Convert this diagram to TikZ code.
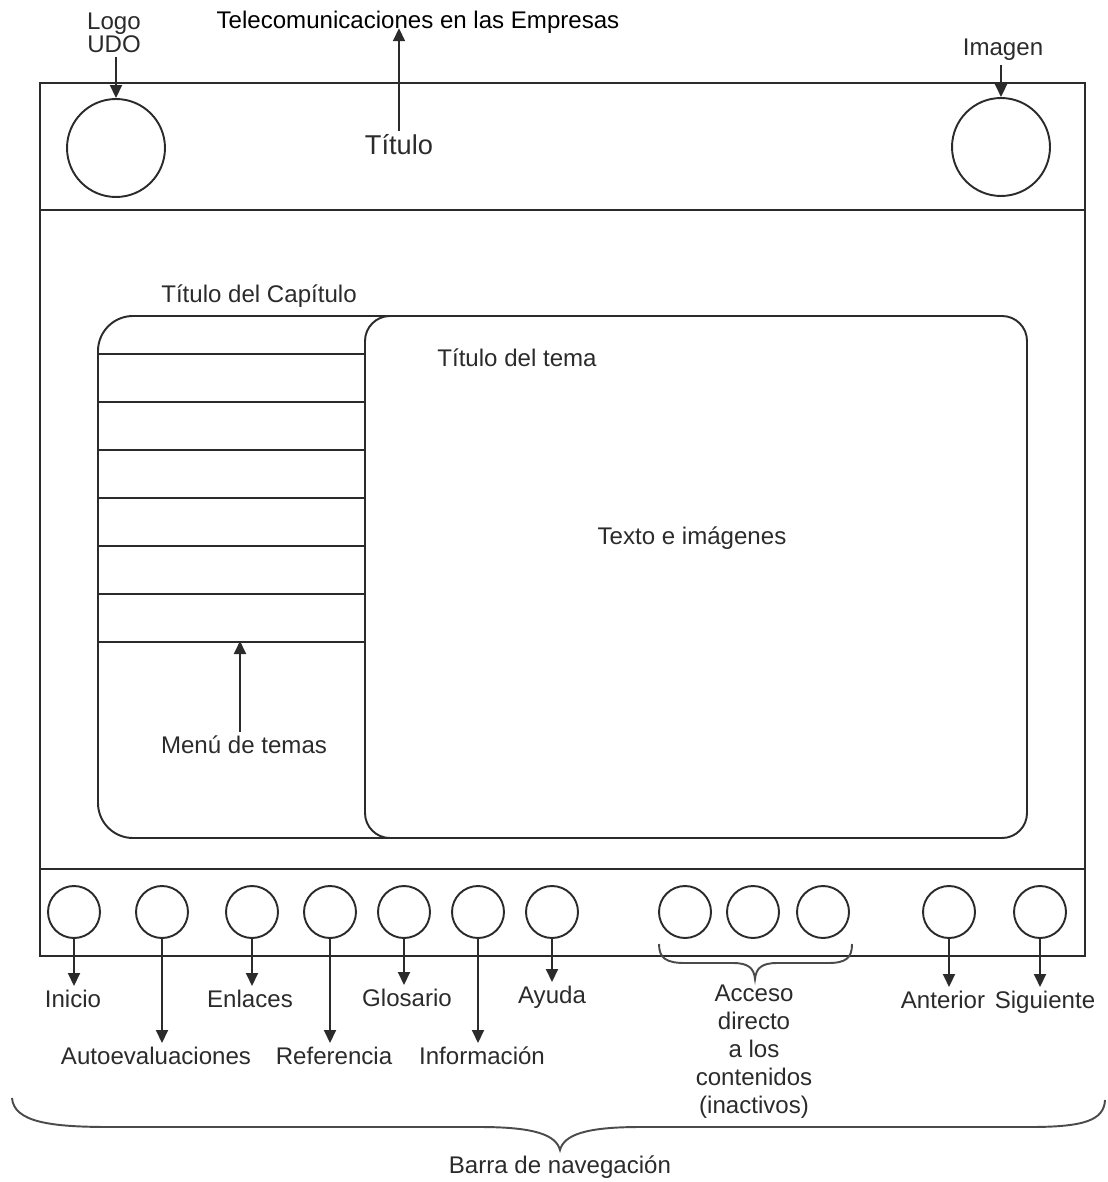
\documentclass[tikz,border=0pt]{standalone}
\usepackage{fontspec}
\setmainfont{Liberation Sans}
\usetikzlibrary{positioning, arrows.meta, calc}
\definecolor{tinta}{HTML}{2B2B2B}

\begin{document}
\begin{tikzpicture}[x=0.02cm, y=-0.02cm,
      linea/.style={draw=tinta, line width=1.1pt},
      circulo/.style={circle, draw=tinta, line width=1.1pt,
        minimum size=1.96cm, inner sep=0pt},
      boton/.style={circle, draw=tinta, line width=1.1pt,
        minimum size=1.04cm, inner sep=0pt},
      etiqueta/.style={text=tinta, font=\fontsize{13.7}{16}\selectfont, inner sep=2pt},
      llave/.style={draw=tinta!85, line width=1.1pt},
      flecha/.style={-{Triangle[length=0.26cm, width=0.24cm]}, draw=tinta, line width=1.1pt}]
    \useasboundingbox (0,0) rectangle (1107,1182);
    % marco de la pagina
    \draw[linea] (40,83) rectangle (1085,956);
    \draw[linea] (40,210) -- (1085,210);
    \draw[linea] (40,869) -- (1085,869);
    % cabecera
    \node[circulo] (logo) at (116,148) {};
    \node[circulo] (imagen) at (1001,147) {};
    \node[etiqueta, align=center] (logotxt) at (114,33) {Logo\\[-3pt]UDO};
    \node[etiqueta, text=black] (empresa) at (418,22) {Telecomunicaciones en las Empresas};
    \node[etiqueta, font=\fontsize{15.5}{18}\selectfont] (titulo) at (399,145) {Título};
    \node[etiqueta] (imagentxt) at (1003,50) {Imagen};
    \draw[flecha] (logotxt.south -| logo.north) -- (logo.north);
    \draw[flecha] (imagentxt.south -| imagen.north) -- (imagen.north);
    \draw[flecha] (titulo.north) -- (titulo.north |- empresa.base);
    % capitulo y tema
    \draw[linea, rounded corners=0.7cm] (98,316) rectangle (420,838);
    \foreach \i in {0,...,6}
      \draw[linea] (98,354+48*\i) -- (365,354+48*\i);
    \draw[linea, fill=white, rounded corners=0.5cm] (365,316) rectangle (1027,838);
    \coordinate (ultima) at (240,641);
    \node[etiqueta] (capitulo) at (259,296) {Título del Capítulo};
    \node[etiqueta] (tema) at (517,358) {Título del tema};
    \node[etiqueta] (texto) at (692,538) {Texto e imágenes};
    \node[etiqueta] (menu) at (244,745) {Menú de temas};
    \draw[flecha] (menu.north -| ultima) -- (ultima);
    % barra de navegacion
    \foreach \n/\x in {1/74,2/162,3/252,4/330,5/404,6/478,7/552,
        8/685,9/753,10/823,11/949,12/1040}
      \node[boton] (b\n) at (\x,912) {};
    \node[etiqueta, anchor=north] (inicio) at (73,986) {Inicio};
    \node[etiqueta, anchor=north] (autoeval) at (156,1043) {Autoevaluaciones};
    \node[etiqueta, anchor=north] (enlaces) at (250,986) {Enlaces};
    \node[etiqueta, anchor=north] (referencia) at (334,1043) {Referencia};
    \node[etiqueta, anchor=north] (glosario) at (407,985) {Glosario};
    \node[etiqueta, anchor=north] (informacion) at (482,1043) {Información};
    \node[etiqueta, anchor=north] (ayuda) at (552,982) {Ayuda};
    \node[etiqueta, anchor=north] (anterior) at (943,987) {Anterior};
    \node[etiqueta, anchor=north] (siguiente) at (1045,987) {Siguiente};
    \node[etiqueta, anchor=north, align=center, font=\fontsize{13.7}{15.9}\selectfont]
      (acceso) at (754,981) {Acceso\\directo\\a los\\contenidos\\(inactivos)};
    \draw[flecha] (b1) -- (b1 |- inicio.north);
    \draw[flecha] (b2) -- (b2 |- autoeval.north);
    \draw[flecha] (b3) -- (b3 |- enlaces.north);
    \draw[flecha] (b4) -- (b4 |- referencia.north);
    \draw[flecha] (b5) -- (b5 |- glosario.north);
    \draw[flecha] (b6) -- (b6 |- informacion.north);
    \draw[flecha] (b7) -- (b7 |- ayuda.north);
    \draw[flecha] (b11) -- (b11 |- anterior.north);
    \draw[flecha] (b12) -- (b12 |- siguiente.north);
    % llaves
    \draw[llave] (659,944) .. controls (659,958) and (666,963) .. (685,963) -- (733,963)
      .. controls (748,963) and (754,968) .. (755,979)
      .. controls (756,968) and (762,963) .. (777,963) -- (828,963)
      .. controls (846,963) and (852,958) .. (852,944);
    \draw[llave] (12,1098) .. controls (14,1122) and (50,1127) .. (110,1127) -- (480,1127)
      .. controls (535,1127) and (556,1135) .. (560,1150)
      .. controls (564,1135) and (585,1127) .. (640,1127) -- (1030,1127)
      .. controls (1085,1127) and (1104,1120) .. (1105,1100);
    \node[etiqueta] (barra) at (560,1167) {Barra de navegación};
  \end{tikzpicture}
\end{document}
